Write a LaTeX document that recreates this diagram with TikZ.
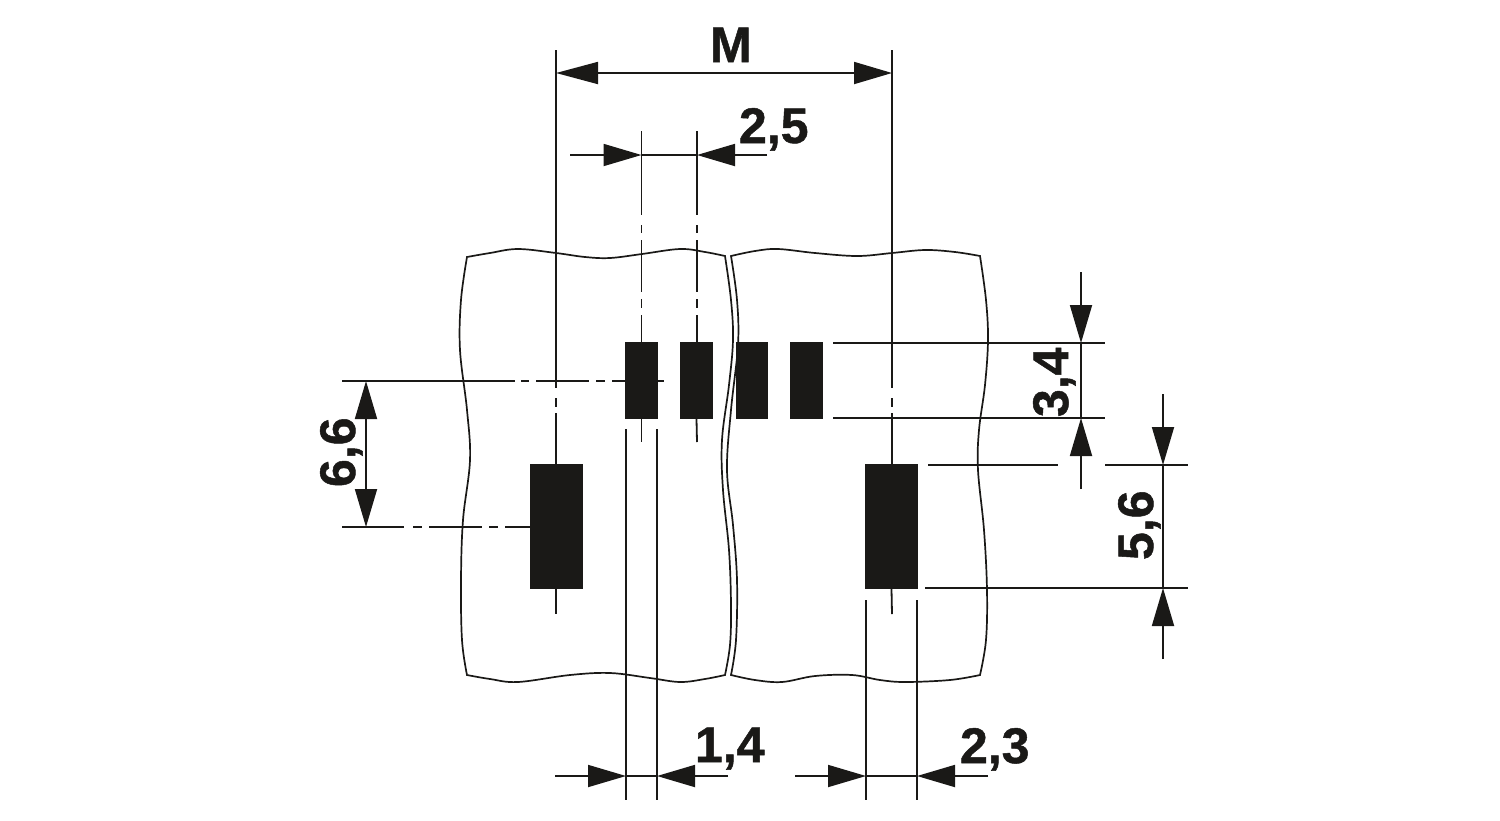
\documentclass[tikz,border=0pt]{standalone}
\usepackage{fontspec}
\setmainfont{Liberation Sans}
\newfontfamily\labfont{Liberation Sans Bold}[FakeBold=1.0]
\usetikzlibrary{arrows.meta}
\definecolor{ink}{HTML}{1A1917}
\tikzset{
  ln/.style={line width=1.8pt,draw=ink,line cap=butt},
  panel/.style={line width=1.7pt,draw=ink,line join=miter},
  pad/.style={fill=ink,draw=none,inner sep=0pt,outer sep=0pt},
  lab/.style={inner sep=0pt,outer sep=0pt,text=ink,font=\fontsize{50pt}{50pt}\labfont},
  dima/.style={ln,-{Triangle[length=38pt,width=22pt,color=ink,fill=ink]}},
  dimb/.style={ln,{Triangle[length=#1,width=22pt,color=ink,fill=ink]}-{Triangle[length=38pt,width=22pt,color=ink,fill=ink]}},
  dimb/.default=38pt
}
\begin{document}
\begin{tikzpicture}[x=1pt,y=-1pt]
\useasboundingbox (0,0) rectangle (1500,820);
% panels
\draw[panel] plot[smooth,tension=.6] coordinates {(467,257) (490,253) (518,249) (556,253) (585,257) (610,258) (642,254) (680,249) (705,252) (725,256)}
  -- plot[smooth,tension=.6] coordinates {(725,256) (731,300) (733,340) (729,385) (722,440) (723,490) (729,550) (731,605) (730,645) (725,675)}
  -- plot[smooth,tension=.6] coordinates {(725,675) (705,679) (680,682) (650,678) (610,673) (570,675) (518,682) (490,679) (467,675)}
  -- plot[smooth,tension=.6] coordinates {(467,675) (462,640) (461,580) (463,520) (470,460) (467,410) (460,350) (461,300) (467,257)} -- cycle;
\draw[panel] plot[smooth,tension=.6] coordinates {(731,256) (755,251) (778,249) (815,253) (857,256) (892,253) (925,250) (955,252) (980,256)}
  -- plot[smooth,tension=.6] coordinates {(980,256) (986,300) (988,340) (985,385) (979,430) (978,470) (984,530) (987,590) (986,640) (980,675)}
  -- plot[smooth,tension=.6] coordinates {(980,675) (950,680) (905,682) (880,680) (852,675) (815,676) (782,682) (755,680) (731,675)}
  -- plot[smooth,tension=.6] coordinates {(731,675) (736,640) (737,580) (733,525) (727,470) (731,410) (738,345) (737,300) (731,256)} -- cycle;
% named points
\coordinate (mL) at (556,73);   \coordinate (mR) at (892,73);
\coordinate (vLt) at (556,50);  \coordinate (vRt) at (892,50);
\coordinate (a1) at (641.5,131); \coordinate (a2) at (697,131);
\coordinate (b1) at (641.5,155); \coordinate (b2) at (697,155);
\coordinate (b0) at (570,155);  \coordinate (b3) at (767,155);
\coordinate (h1s) at (342,381); \coordinate (h1e) at (664,381);
\coordinate (h2s) at (342,527);
\coordinate (d66a) at (366,381); \coordinate (d66b) at (366,527);
\coordinate (e1a) at (833,343);  \coordinate (e1b) at (1105,343);
\coordinate (e2a) at (833,418);  \coordinate (e2b) at (1105,418);
\coordinate (e3a) at (928,465);  \coordinate (e3b) at (1058,465);
\coordinate (e4a) at (1105,465); \coordinate (e4b) at (1188,465);
\coordinate (e5a) at (925,588);  \coordinate (e5b) at (1188,588);
\coordinate (t34) at (1081,272); \coordinate (t34a) at (1081,343); \coordinate (t34b) at (1081,418); \coordinate (t34c) at (1081,489);
\coordinate (t56) at (1163,394); \coordinate (t56a) at (1163,465); \coordinate (t56b) at (1163,588); \coordinate (t56c) at (1163,659);
\coordinate (w1t) at (626,429); \coordinate (w1b) at (626,800);
\coordinate (w2t) at (657,429); \coordinate (w2b) at (657,800);
\coordinate (w3t) at (866,600); \coordinate (w3b) at (866,800);
\coordinate (w4t) at (917,600); \coordinate (w4b) at (917,800);
\coordinate (c0) at (555,776); \coordinate (c1) at (626,776); \coordinate (c2) at (657,776); \coordinate (c3) at (728,776);
\coordinate (f0) at (795,776); \coordinate (f1) at (866,776); \coordinate (f2) at (917,776); \coordinate (f3) at (988,776);
\coordinate (s1) at (641.5,442); \coordinate (s2) at (697,442);
\coordinate (s3) at (556,614);  \coordinate (s4) at (892,614);
% centre lines (under the pads)
\draw[ln,dash pattern=on 338pt off 10pt on 9pt off 6pt on 60pt] (vLt) -- (556,464);
\draw[ln,dash pattern=on 338pt off 10pt on 9pt off 6pt on 60pt] (vRt) -- (892,464);
\draw[ln,dash pattern=on 84pt off 10pt on 8pt off 7pt on 52pt off 7pt on 9pt off 7pt on 40pt] (a1) -- (641.5,342);
\draw[ln,dash pattern=on 84pt off 10pt on 8pt off 7pt on 52pt off 7pt on 9pt off 7pt on 40pt] (a2) -- (697,342);
\draw[ln,dash pattern=on 173pt off 6pt on 8pt off 7pt on 53pt off 7pt on 9pt off 7pt on 60pt] (h1s) -- (h1e);
\draw[ln,dash pattern=on 62pt off 9pt on 9pt off 7pt on 53pt off 7pt on 9pt off 7pt on 40pt] (h2s) -- (530,527);
% pads
\node[pad,minimum width=33pt,minimum height=77pt] (p1) at (641.5,380.5) {};
\node[pad,minimum width=33pt,minimum height=77pt] (p2) at (696.5,380.5) {};
\node[pad,minimum width=32pt,minimum height=77pt] (p3) at (752,380.5) {};
\node[pad,minimum width=33pt,minimum height=77pt] (p4) at (806.5,380.5) {};
\node[pad,minimum width=53pt,minimum height=125pt] (p5) at (556,526.5) {};
\node[pad,minimum width=53pt,minimum height=125pt] (p6) at (891.5,526.5) {};
\draw[ln] (p1.south) -- (s1);
\draw[ln] (p2.south) -- (s2);
\draw[ln] (p5.south) -- (s3);
\draw[ln] (p6.south) -- (s4);
% extension lines
\draw[ln] (e1a) -- (e1b);
\draw[ln] (e2a) -- (e2b);
\draw[ln] (e3a) -- (e3b);
\draw[ln] (e4a) -- (e4b);
\draw[ln] (e5a) -- (e5b);
\draw[ln] (w1t) -- (w1b);
\draw[ln] (w2t) -- (w2b);
\draw[ln] (w3t) -- (w3b);
\draw[ln] (w4t) -- (w4b);
% dimensions
\draw[dimb=42pt] (mL) -- (mR);
\draw[dimb] (d66a) -- (d66b);
\draw[dima] (b0) -- (b1);
\draw[ln] (b1) -- (b2);
\draw[dima] (b3) -- (b2);
\draw[dima] (c0) -- (c1);
\draw[ln] (c1) -- (c2);
\draw[dima] (c3) -- (c2);
\draw[dima] (f0) -- (f1);
\draw[ln] (f1) -- (f2);
\draw[dima] (f3) -- (f2);
\draw[dima] (t34) -- (t34a);
\draw[ln] (t34a) -- (t34b);
\draw[dima] (t34c) -- (t34b);
\draw[dima] (t56) -- (t56a);
\draw[ln] (t56a) -- (t56b);
\draw[dima] (t56c) -- (t56b);
% labels
\node[lab,anchor=base west] (lM) at (710,62) {M};
\node[lab,anchor=base west] (l25) at (739,143) {2,5};
\node[lab,anchor=base west] (l14) at (695,762) {1,4};
\node[lab,anchor=base west] (l23) at (960,763) {2,3};
\node[lab,anchor=base west,rotate=90] (l34) at (1068,417) {3,4};
\node[lab,anchor=base west,rotate=90] (l56) at (1153,560) {5,6};
\node[lab,anchor=base west,rotate=90] (l66) at (355,487) {6,6};
\end{tikzpicture}
\end{document}
